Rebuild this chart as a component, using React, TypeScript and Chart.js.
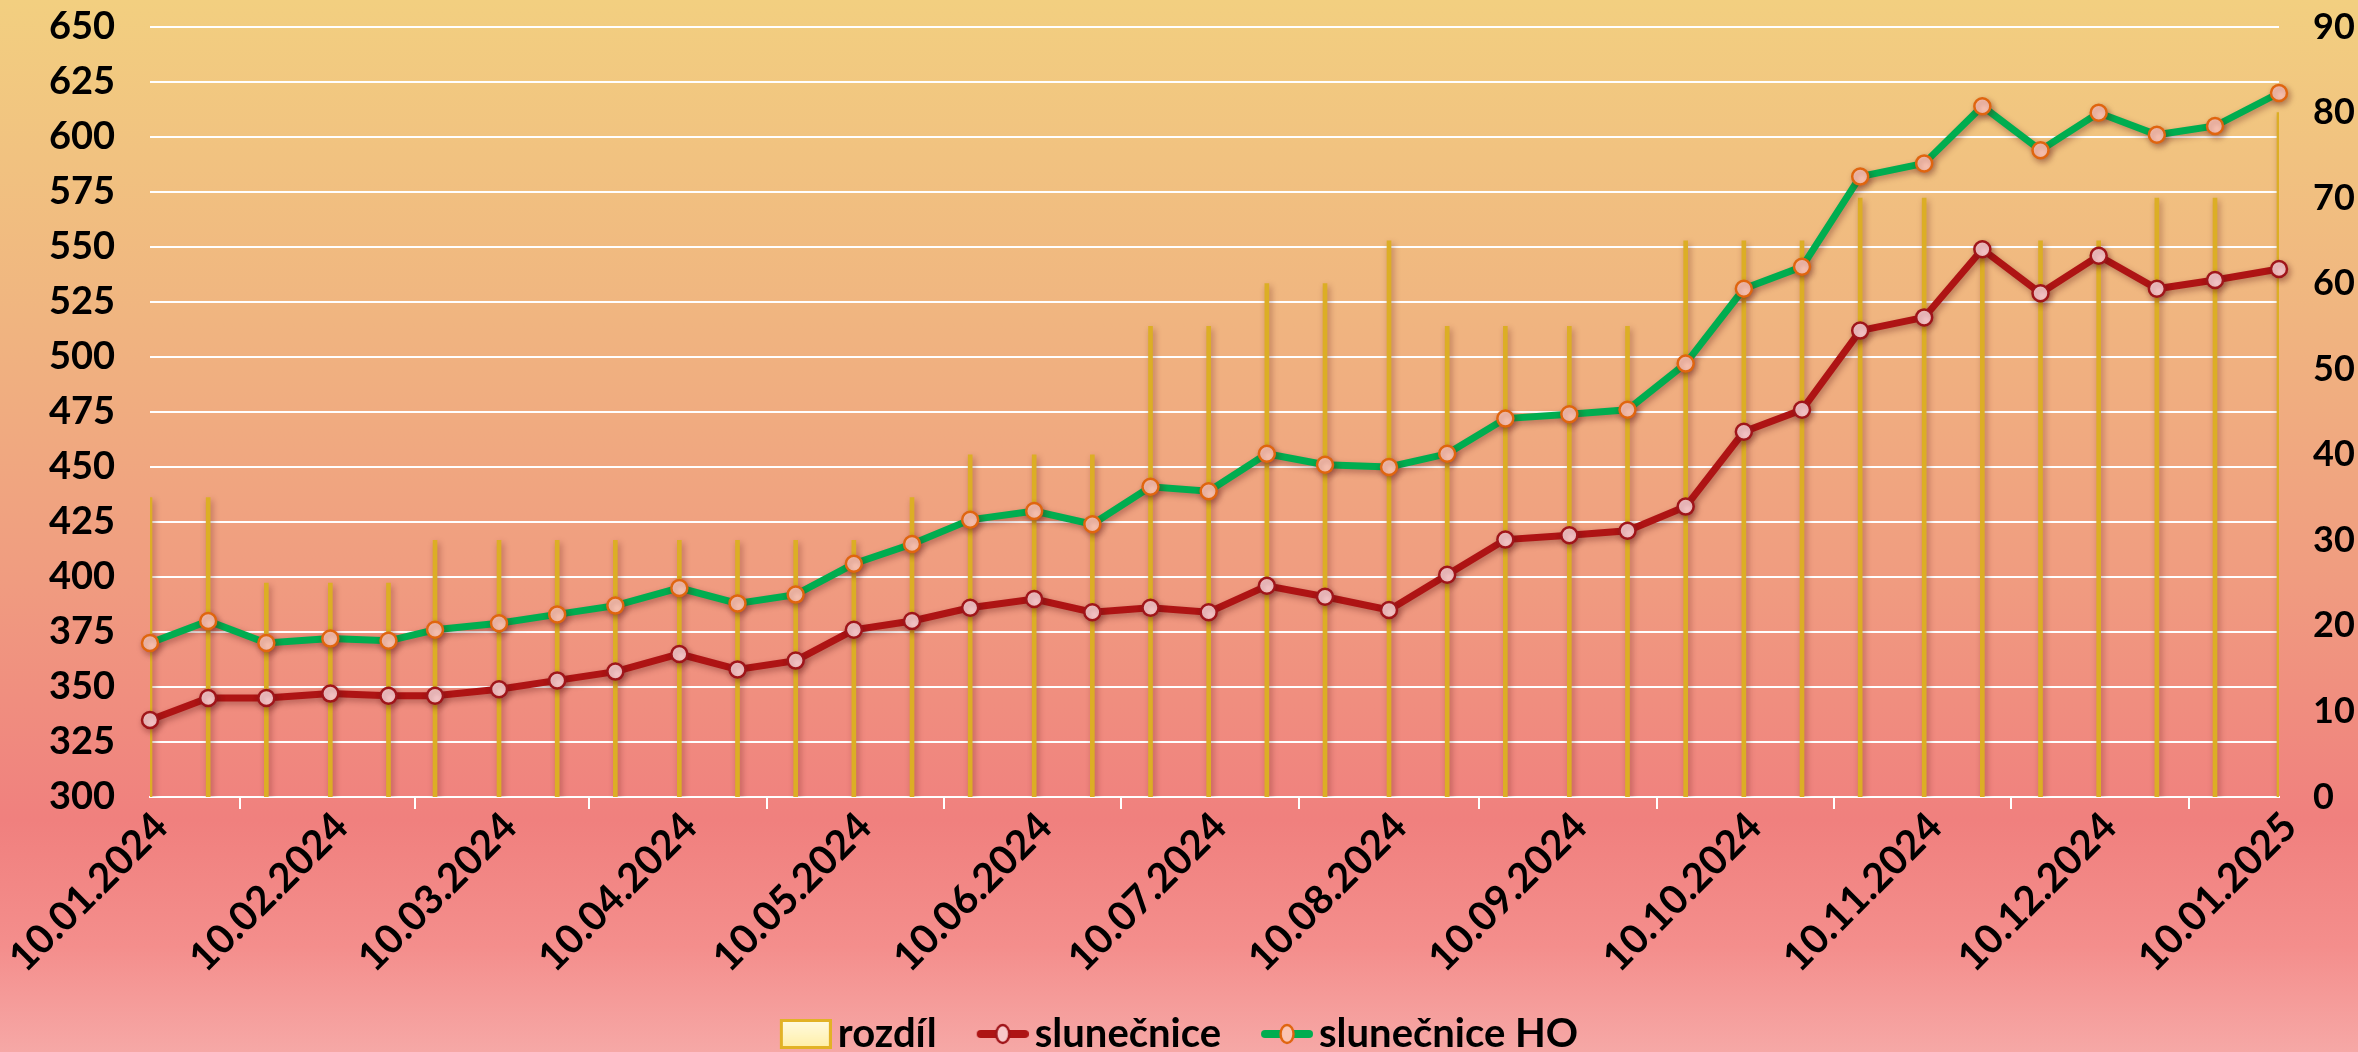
import React, { useEffect, useRef } from 'react';
import { Chart, registerables } from 'chart.js';

Chart.register(...registerables);

// ---- data ----
const dates = [
  '10.01.2024', '20.01.2024', '30.01.2024',
  '10.02.2024', '20.02.2024', '28.02.2024',
  '10.03.2024', '20.03.2024', '30.03.2024',
  '10.04.2024', '20.04.2024', '30.04.2024',
  '10.05.2024', '20.05.2024', '30.05.2024',
  '10.06.2024', '20.06.2024', '30.06.2024',
  '10.07.2024', '20.07.2024', '30.07.2024',
  '10.08.2024', '20.08.2024', '30.08.2024',
  '10.09.2024', '20.09.2024', '30.09.2024',
  '10.10.2024', '20.10.2024', '30.10.2024',
  '10.11.2024', '20.11.2024', '30.11.2024',
  '10.12.2024', '20.12.2024', '30.12.2024',
  '10.01.2025',
];

const slunecnice = [
  335, 345, 345, 347, 346, 346, 349, 353, 357, 365,
  358, 362, 376, 380, 386, 390, 384, 386, 384, 396,
  391, 385, 401, 417, 419, 421, 432, 466, 476, 512,
  518, 549, 529, 546, 531, 535, 540,
];

const slunecniceHO = [
  370, 380, 370, 372, 371, 376, 379, 383, 387, 395,
  388, 392, 406, 415, 426, 430, 424, 441, 439, 456,
  451, 450, 456, 472, 474, 476, 497, 531, 541, 582,
  588, 614, 594, 611, 601, 605, 620,
];

const rozdil = [
  35, 35, 25, 25, 25, 30, 30, 30, 30, 30,
  30, 30, 30, 35, 40, 40, 40, 55, 55, 60,
  60, 65, 55, 55, 55, 55, 65, 65, 65, 70,
  70, 65, 65, 65, 70, 70, 80,
];

const tickLabels = [
  '10.01.2024', '10.02.2024', '10.03.2024', '10.04.2024', '10.05.2024',
  '10.06.2024', '10.07.2024', '10.08.2024', '10.09.2024', '10.10.2024',
  '10.11.2024', '10.12.2024', '10.01.2025',
];

const seriesNames = ['rozdíl', 'slunečnice', 'slunečnice HO'];

// ---- helpers ----
const parseDay = (s: string) => {
  const [d, m, y] = s.split('.').map(Number);
  return Date.UTC(y, m - 1, d) / 86400000;
};
const base = parseDay(dates[0]);
const dayOffset = (s: string) => parseDay(s) - base;

const FAMILY = 'Lato, "DejaVu Sans", sans-serif';
const FONT = { family: FAMILY, size: 40, weight: 'bold' as const };
const YFONT = { family: FAMILY, size: 38, weight: 'bold' as const };
const Y1FONT = { family: FAMILY, size: 36, weight: 'bold' as const };

const RED = '#AE1414';
const GREEN = '#00AD50';
const GOLD = '#DCAE25';

function makeMarker(kind: 'box' | 'red' | 'green') {
  const c = document.createElement('canvas');
  const W = 66;
  const H = 34;
  const ox = 14;
  c.width = W;
  c.height = H;
  const ctx = c.getContext('2d')!;
  if (kind === 'box') {
    const g = ctx.createLinearGradient(0, 3, 0, 31);
    g.addColorStop(0, '#FFFBE2');
    g.addColorStop(1, '#FFEFA6');
    ctx.fillStyle = g;
    ctx.fillRect(ox + 1.5, 3.5, 49, 27);
    ctx.strokeStyle = '#E2B226';
    ctx.lineWidth = 3;
    ctx.strokeRect(ox + 1.5, 3.5, 49, 27);
  } else {
    const lineCol = kind === 'red' ? RED : GREEN;
    const border = kind === 'red' ? '#A0151A' : '#E0650F';
    const fill = kind === 'red' ? '#F8C8CA' : '#FBC4B2';
    ctx.strokeStyle = lineCol;
    ctx.lineWidth = 8;
    ctx.lineCap = 'round';
    ctx.beginPath();
    ctx.moveTo(ox + 4, H / 2);
    ctx.lineTo(ox + 48, H / 2);
    ctx.stroke();
    ctx.beginPath();
    ctx.ellipse(ox + 26, H / 2, 6.5, 9, 0, 0, Math.PI * 2);
    ctx.fillStyle = fill;
    ctx.fill();
    ctx.lineWidth = 2.5;
    ctx.strokeStyle = border;
    ctx.stroke();
  }
  return c;
}

const shadowPlugin = {
  id: 'softShadow',
  beforeDatasetDraw(chart: any) {
    const ctx = chart.ctx;
    ctx.save();
    ctx.shadowColor = 'rgba(90,20,20,0.38)';
    ctx.shadowBlur = 6;
    ctx.shadowOffsetX = 2;
    ctx.shadowOffsetY = 3;
  },
  afterDatasetDraw(chart: any) {
    chart.ctx.restore();
  },
};

const zeroPad = (scale: any) => {
  scale.paddingTop = 0;
  scale.paddingBottom = 0;
  scale.paddingLeft = 0;
  scale.paddingRight = 0;
};

export default function App() {
  const canvasRef = useRef<HTMLCanvasElement | null>(null);

  useEffect(() => {
    document.body.style.margin = '0';
    const canvas = canvasRef.current;
    if (!canvas) return;

    const xs = dates.map(dayOffset);
    const tickPositions = tickLabels.map(dayOffset);
    const markers = [makeMarker('box'), makeMarker('red'), makeMarker('green')];

    const chart = new Chart(canvas, {
      type: 'line',
      data: {
        datasets: [
          {
            type: 'bar',
            label: seriesNames[0],
            data: xs.map((x, i) => ({ x, y: rozdil[i] })),
            yAxisID: 'y1',
            backgroundColor: GOLD,
            borderWidth: 0,
            barThickness: 4,
            order: 3,
          } as any,
          {
            type: 'line',
            label: seriesNames[1],
            data: xs.map((x, i) => ({ x, y: slunecnice[i] })),
            yAxisID: 'y',
            borderColor: RED,
            borderWidth: 7,
            pointRadius: 8,
            pointBorderWidth: 2.5,
            pointBackgroundColor: '#F8C8CA',
            pointBorderColor: '#A0151A',
            tension: 0,
            clip: false,
            order: 2,
          },
          {
            type: 'line',
            label: seriesNames[2],
            data: xs.map((x, i) => ({ x, y: slunecniceHO[i] })),
            yAxisID: 'y',
            borderColor: GREEN,
            borderWidth: 7,
            pointRadius: 8,
            pointBorderWidth: 2.5,
            pointBackgroundColor: '#FBC4B2',
            pointBorderColor: '#E0650F',
            tension: 0,
            clip: false,
            order: 1,
          },
        ],
      },
      options: {
        responsive: false,
        animation: false,
        devicePixelRatio: 1,
        events: [],
        layout: {
          autoPadding: false,
          padding: { top: 27, left: 0, right: 0, bottom: -12 },
        } as any,
        plugins: {
          tooltip: { enabled: false },
          legend: {
            position: 'bottom',
            labels: {
              usePointStyle: true,
              pointStyleWidth: 38,
              padding: 40,
              color: '#000',
              font: FONT,
              generateLabels: () =>
                seriesNames.map((text, i) => ({
                  text,
                  pointStyle: markers[i] as any,
                  fillStyle: 'transparent',
                  strokeStyle: 'transparent',
                  lineWidth: 0,
                  hidden: false,
                  datasetIndex: i,
                  fontColor: '#000',
                })),
            },
          },
        },
        scales: {
          x: {
            type: 'linear',
            min: 0,
            max: tickPositions[tickPositions.length - 1],
            offset: false,
            afterBuildTicks: (scale: any) => {
              scale.ticks = tickPositions.map((v) => ({ value: v }));
            },
            afterFit: (scale: any) => {
              scale.height = 177;
              zeroPad(scale);
            },
            ticks: {
              autoSkip: false,
              minRotation: 45,
              maxRotation: 45,
              padding: -6,
              labelOffset: 11,
              color: '#000',
              font: FONT,
              callback: (_v: any, i: number) => tickLabels[i],
            },
            grid: {
              drawOnChartArea: false,
              drawTicks: true,
              tickLength: 12,
              color: '#FFFFFF',
              lineWidth: 2,
            },
            border: { display: true, color: '#FFFFFF', width: 2 },
          },
          y: {
            type: 'linear',
            position: 'left',
            min: 300,
            max: 650,
            afterFit: (scale: any) => {
              scale.width = 150;
              zeroPad(scale);
            },
            ticks: { stepSize: 25, padding: 35, color: '#000', font: YFONT },
            grid: { color: '#FFFFFF', lineWidth: 2, drawTicks: false },
            border: { display: false },
          },
          y1: {
            type: 'linear',
            position: 'right',
            min: 0,
            max: 90,
            afterFit: (scale: any) => {
              scale.width = 79;
              zeroPad(scale);
            },
            ticks: { stepSize: 10, padding: 34, color: '#000', font: Y1FONT },
            grid: { display: false, drawTicks: false },
            border: { display: false },
          },
        },
      },
      plugins: [shadowPlugin],
    });

    return () => chart.destroy();
  }, []);

  return (
    <div
      style={{
        width: 2358,
        height: 1052,
        overflow: 'hidden',
        background:
          'linear-gradient(180deg, #F2CF80 0%, #F0B580 30%, #F09C80 55%, #F0807E 78%, #F48E8C 90%, #F6A8A6 100%)',
      }}
    >
      <canvas ref={canvasRef} width={2358} height={1052} style={{ display: 'block', width: 2358, height: 1052 }} />
    </div>
  );
}
